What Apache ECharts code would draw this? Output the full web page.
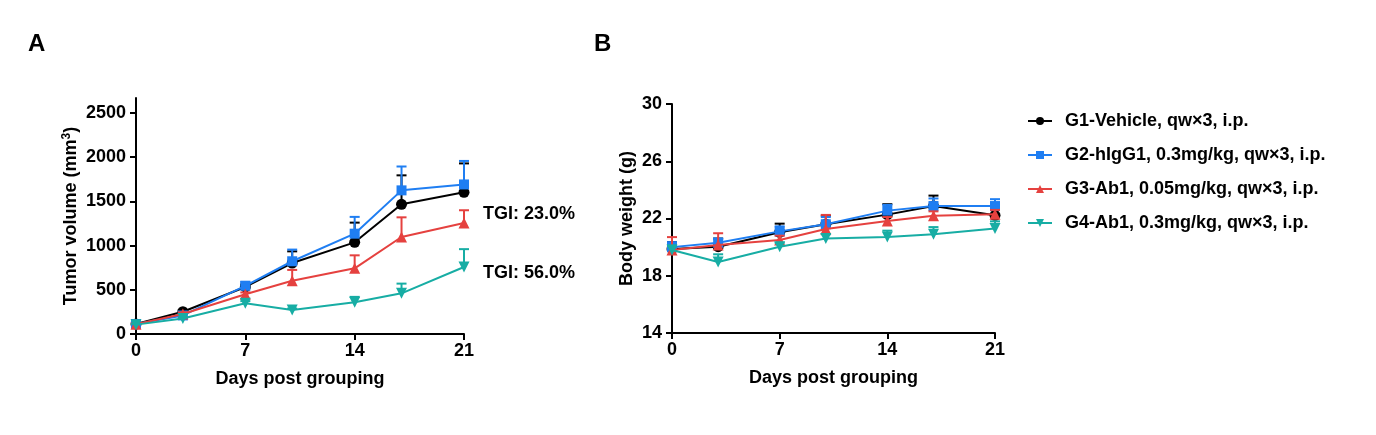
<!DOCTYPE html>
<html><head><meta charset="utf-8">
<script src="https://cdn.jsdelivr.net/npm/echarts@6/dist/echarts.min.js"></script>
<style>html,body{margin:0;padding:0;background:#fff}#c{width:1376px;height:435px}</style>
</head><body><div id="c"></div>
<script>
var days = [0, 3, 7, 10, 14, 17, 21];
var groupNames = ['G1-Vehicle, qw×3, i.p.', 'G2-hIgG1, 0.3mg/kg, qw×3, i.p.', 'G3-Ab1, 0.05mg/kg, qw×3, i.p.', 'G4-Ab1, 0.3mg/kg, qw×3, i.p.'];
var colors = ['#000000', '#1f7ef2', '#e5413f', '#17ada4'];
var symbols = ['circle', 'rect', 'triangle', 'triangle'];
var symbolRot = [0, 0, 0, 180];
var symbolSizes = [11, 10, 11, 11];

// Panel A: tumor volume (mm3)
var tvMean = [
  [113, 252, 532, 803, 1037, 1467, 1603],
  [113, 210, 545, 823, 1135, 1625, 1692],
  [110, 226, 449, 603, 743, 1097, 1256],
  [106, 175, 347, 271, 359, 460, 758]
];
var tvUpper = [
  [122, 268, 562, 935, 1260, 1795, 1930],
  [124, 232, 590, 955, 1325, 1895, 1958],
  [118, 245, 470, 725, 890, 1320, 1400],
  [114, 186, 372, 288, 420, 570, 960]
];
// Panel B: body weight (g)
var bwMean = [
  [19.87, 20.03, 21.04, 21.6, 22.27, 22.87, 22.22],
  [20.0, 20.3, 21.1, 21.6, 22.55, 22.87, 22.87],
  [19.8, 20.15, 20.5, 21.27, 21.83, 22.2, 22.3],
  [19.8, 18.96, 20.03, 20.6, 20.7, 20.9, 21.3]
];
var bwUpper = [
  [20.35, 20.6, 21.64, 22.2, 23.0, 23.6, 22.9],
  [20.35, 20.6, 21.45, 22.1, 22.95, 23.4, 23.35],
  [20.7, 20.97, 20.8, 22.25, 22.1, 22.5, 22.6],
  [20.1, 19.5, 20.3, 20.9, 21.15, 21.4, 21.8]
];
var xTicks = [0, 7, 14, 21];
var tvTicks = [0, 500, 1000, 1500, 2000, 2500];
var bwTicks = [14, 18, 22, 26, 30];
var tgiLabels = ['TGI: 23.0%', 'TGI: 56.0%'];

var FONT = 'Liberation Sans, Arial, sans-serif';
var chart = echarts.init(document.getElementById('c'), null, {renderer: 'canvas'});

function axisCommon(isY) {
  return {
    axisLine: {show: true, lineStyle: {color: '#000', width: 2}},
    axisTick: {show: true, length: 6, lineStyle: {color: '#000', width: 2}},
    axisLabel: {color: '#000', fontSize: 18, fontWeight: 'bold', fontFamily: FONT, margin: isY ? 10 : 8,
      formatter: function (v) { return String(v); }},
    splitLine: {show: false},
    nameTextStyle: {color: '#000', fontSize: 18, fontWeight: 'bold', fontFamily: FONT}
  };
}
function mk(o, extra) { for (var k in extra) o[k] = extra[k]; return o; }

function errSeries(idx, axisIdx, mean, upper) {
  var data = days.map(function (d, i) { return [d, mean[i], upper[i]]; });
  return {
    type: 'custom', xAxisIndex: axisIdx, yAxisIndex: axisIdx, silent: true,
    data: data, z: 2 + idx,
    renderItem: function (params, api) {
      var p0 = api.coord([api.value(0), api.value(1)]);
      var p1 = api.coord([api.value(0), api.value(2)]);
      var hw = 5;
      return {type: 'group', children: [
        {type: 'line', shape: {x1: p0[0], y1: p0[1], x2: p1[0], y2: p1[1]}, style: {stroke: colors[idx], lineWidth: 2}},
        {type: 'line', shape: {x1: p1[0] - hw, y1: p1[1], x2: p1[0] + hw, y2: p1[1]}, style: {stroke: colors[idx], lineWidth: 2}}
      ]};
    }
  };
}
function lineSeries(idx, axisIdx, mean) {
  return {
    type: 'line', name: groupNames[idx], xAxisIndex: axisIdx, yAxisIndex: axisIdx,
    data: days.map(function (d, i) { return [d, mean[i]]; }),
    symbol: symbols[idx], symbolSize: symbolSizes[idx], symbolRotate: symbolRot[idx], showAllSymbol: true,
    itemStyle: {color: colors[idx]}, lineStyle: {color: colors[idx], width: 2},
    z: 2 + idx, animation: false
  };
}

var series = [];
[3, 2, 1, 0].forEach(function (i) {
  series.push(errSeries(i, 0, tvMean[i], tvUpper[i]));
  series.push(lineSeries(i, 0, tvMean[i]));
});
[3, 2, 1, 0].forEach(function (i) {
  series.push(errSeries(i, 1, bwMean[i], bwUpper[i]));
  series.push(lineSeries(i, 1, bwMean[i]));
});

var yA = mk(axisCommon(true), {type: 'value', gridIndex: 0, min: 0, max: 2670,
  name: 'Tumor volume (mm{sup|3})', nameLocation: 'middle', nameGap: 54});
yA.axisLabel.customValues = tvTicks;
yA.axisTick.customValues = tvTicks;
yA.nameTextStyle.rich = {sup: {fontSize: 12, fontWeight: 'bold', fontFamily: FONT, color: '#000', verticalAlign: 'top', padding: [0, 0, 9, 0]}};

var option = {
  animation: false,
  backgroundColor: '#fff',
  grid: [
    {left: 136, top: 98, width: 328, height: 236},
    {left: 672, top: 104, width: 323, height: 229}
  ],
  xAxis: [
    mk(axisCommon(false), {type: 'value', gridIndex: 0, min: 0, max: 21, interval: 7, name: 'Days post grouping', nameLocation: 'middle', nameGap: 36}),
    mk(axisCommon(false), {type: 'value', gridIndex: 1, min: 0, max: 21, interval: 7, name: 'Days post grouping', nameLocation: 'middle', nameGap: 36})
  ],
  yAxis: [
    yA,
    mk(axisCommon(true), {type: 'value', gridIndex: 1, min: 14, max: 30, interval: 4, name: 'Body weight (g)', nameLocation: 'middle', nameGap: 36})
  ],
  legend: {
    left: 1022, top: 107, orient: 'vertical', itemWidth: 24, itemHeight: 10, itemGap: 16,
    data: groupNames,
    textStyle: {color: '#000', fontSize: 18, fontWeight: 'bold', fontFamily: FONT, padding: [0, 0, 0, 8]}
  },
  graphic: [
    {type: 'text', left: 28, top: 32, style: {text: 'A', fontSize: 24, fontWeight: 'bold', fontFamily: FONT, fill: '#000'}},
    {type: 'text', left: 594, top: 32, style: {text: 'B', fontSize: 24, fontWeight: 'bold', fontFamily: FONT, fill: '#000'}},
    {type: 'text', left: 483, top: 205, style: {text: tgiLabels[0], fontSize: 18, fontWeight: 'bold', fontFamily: FONT, fill: '#000'}},
    {type: 'text', left: 483, top: 264, style: {text: tgiLabels[1], fontSize: 18, fontWeight: 'bold', fontFamily: FONT, fill: '#000'}}
  ],
  series: series
};
chart.setOption(option);
</script></body></html>
